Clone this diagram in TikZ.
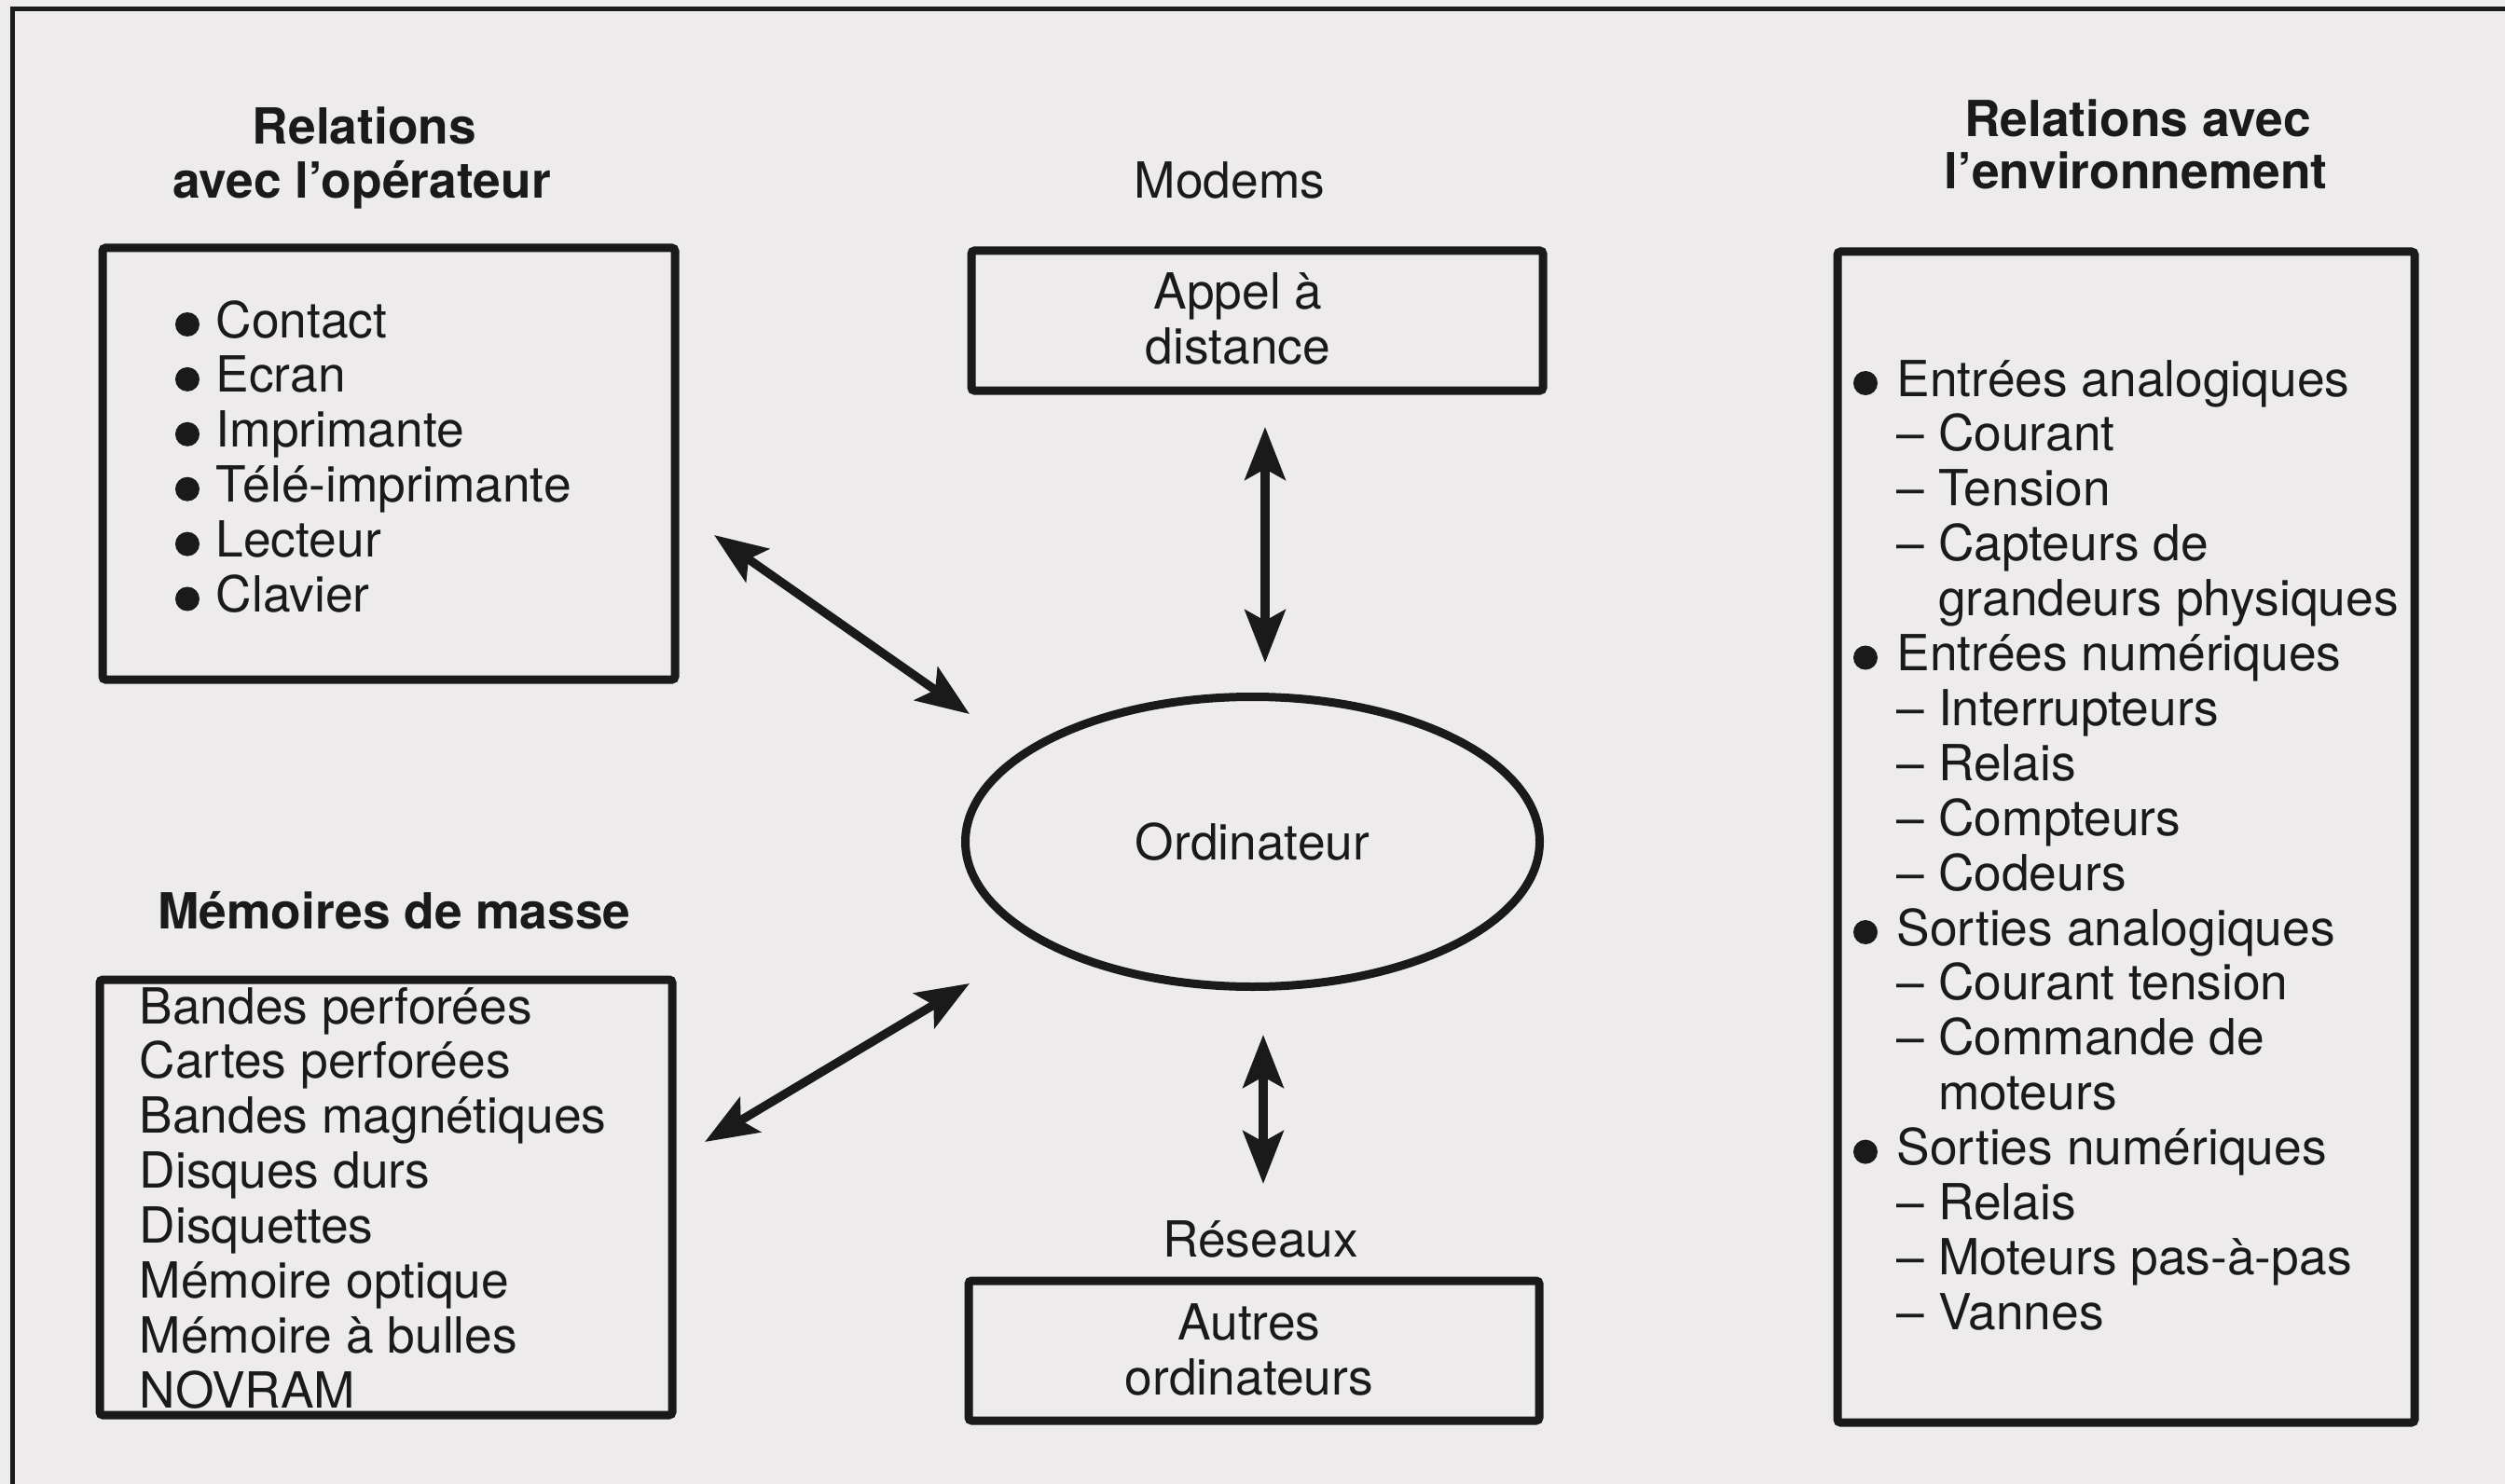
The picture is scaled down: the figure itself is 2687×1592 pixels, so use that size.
\documentclass[tikz,border=0pt]{standalone}
\usepackage{fontspec}
\setmainfont{TeX Gyre Heros}
\usetikzlibrary{shapes.geometric,arrows.meta}
\definecolor{bgc}{RGB}{237,235,235}
\definecolor{ink}{RGB}{26,26,26}
\begin{document}
\begin{tikzpicture}[x=0.3pt,y=-0.3pt,
  txt/.style={font=\fontsize{16}{18}\selectfont, text=ink, inner sep=0pt},
  ttl/.style={txt, font=\fontsize{16}{18}\selectfont\bfseries, anchor=base},
  item/.style={txt, anchor=base west},
  ctr/.style={txt, anchor=base},
  frame/.style={draw=ink, line width=2.7pt, rounded corners=1pt, inner sep=0pt},
  sz/.style 2 args={minimum width=#1*0.3pt, minimum height=#2*0.3pt},
  tip/.tip={Stealth[length=17pt,width=13pt,inset=3.5pt]},
  arr/.style={tip-tip, line width=2.8pt, draw=ink},
  dot/.style={fill=ink}
]
\useasboundingbox (0,0) rectangle (2687,1592);
\fill[bgc] (0,0) rectangle (2687,1592);
\draw[ink, line width=1.5pt] (2687,10) -- (13,10) -- (13,1592);

% titles
\node[ttl] (t1a) at (391,155) {Relations};
\node[ttl] (t1b) at (388,213) {avec l’opérateur};
\node[ttl] (t2) at (423,996) {Mémoires de masse};
\node[ttl] (t3a) at (2293,147) {Relations avec};
\node[ttl] (t3b) at (2291,203) {l’environnement};

% boxes
\node[frame, sz={614}{463}] (op) at (417,497.5) {};
\node[frame, sz={614}{467}] (mem) at (414,1284.5) {};
\node[frame, sz={613}{150}] (appel) at (1348.5,344) {};
\node[frame, sz={612}{150}] (autres) at (1345,1449) {};
\node[frame, sz={619}{1256}] (env) at (2280.5,898) {};
\node[frame, ellipse, sz={616}{311}, txt] (ord) at (1343.5,903) {Ordinateur};

% center labels
\node[ctr] (modems) at (1319,213) {Modems};
\node[ctr] (ap1) at (1328,332) {Appel à};
\node[ctr] (ap2) at (1328,391) {distance};
\node[ctr] (reseaux) at (1352,1348) {Réseaux};
\node[ctr] (au1) at (1340,1437) {Autres};
\node[ctr] (au2) at (1340,1496) {ordinateurs};

% operator list
\foreach \t [count=\i from 0] in {Contact, Ecran, Imprimante, Télé-imprimante, Lecteur, Clavier} {
  \node[item] (op\i) at (231,{362+58.9*\i}) {\t};
  \fill[dot] (201,{348+58.9*\i}) circle[radius=13];
}

% mass memory list
\foreach \t [count=\i from 0] in {Bandes perforées, Cartes perforées, Bandes magnétiques, Disques durs, Disquettes, Mémoire optique, Mémoire à bulles, NOVRAM} {
  \node[item] (mm\i) at (149,{1098+58.9*\i}) {\t};
}

% environment list
\foreach \i/\t in {0/Entrées analogiques, 5/Entrées numériques, 10/Sorties analogiques, 14/Sorties numériques} {
  \node[item] (en\i) at (2034,{425+58.9*\i}) {\t};
  \fill[dot] (2001,{411+58.9*\i}) circle[radius=13];
}
\foreach \i/\t in {1/Courant, 2/Tension, 3/Capteurs de, 6/Interrupteurs, 7/Relais, 8/Compteurs, 9/Codeurs, 11/Courant tension, 12/Commande de, 15/Relais, 16/Moteurs pas-à-pas, 17/Vannes} {
  \node[item] (en\i) at (2034,{425+58.9*\i}) {– \t};
}
\foreach \i/\t in {4/grandeurs physiques, 13/moteurs} {
  \node[item] (en\i) at (2034,{425+58.9*\i}) {\phantom{– }\t};
}

% arrows
\coordinate (a1s) at (766,574);
\coordinate (a1e) at (1040,766);
\coordinate (a2s) at (1357,458);
\coordinate (a2e) at (1357,711);
\coordinate (a3s) at (756,1225);
\coordinate (a3e) at (1040,1055);
\coordinate (a4s) at (1355,1110);
\coordinate (a4e) at (1355,1270);
\draw[arr] (a1s) -- (a1e);
\draw[arr] (a2s) -- (a2e);
\draw[arr] (a3s) -- (a3e);
\draw[arr] (a4s) -- (a4e);
\end{tikzpicture}
\end{document}
